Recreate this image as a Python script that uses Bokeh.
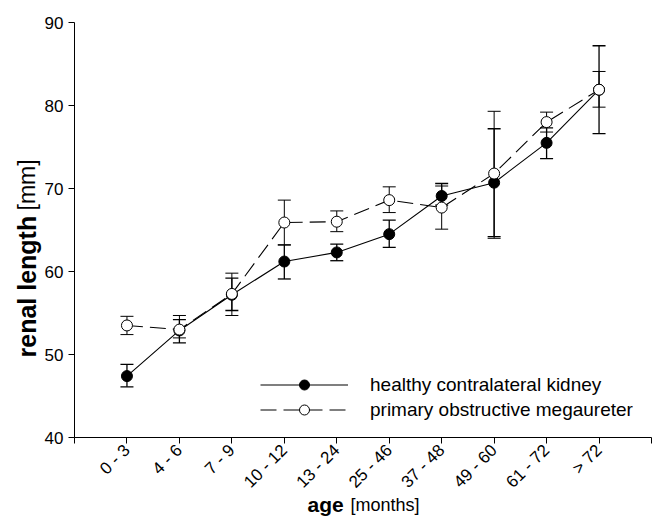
import math
from bokeh.plotting import figure
from bokeh.models import (ColumnDataSource, Whisker, FixedTicker, Label, Legend,
                          LegendItem, Range1d, TeeHead)
from bokeh.embed import file_html
from bokeh.resources import INLINE

categories = ["0 - 3", "4 - 6", "7 - 9", "10 - 12", "13 - 24", "25 - 46",
              "37 - 48", "49 - 60", "61 - 72", "> 72"]
healthy_mean = [47.4, 52.9, 57.2, 61.2, 62.3, 64.5, 69.1, 70.7, 75.5, 81.9]
healthy_lower = [46.1, 51.4, 55.3, 59.1, 61.3, 62.9, 68.0, 64.2, 73.6, 76.6]
healthy_upper = [48.8, 54.2, 59.2, 63.2, 63.3, 66.2, 70.6, 77.2, 77.3, 87.2]
pom_mean = [53.5, 53.0, 57.3, 65.9, 66.0, 68.6, 67.7, 71.8, 78.0, 81.9]
pom_lower = [52.4, 52.0, 54.7, 63.2, 64.8, 67.1, 65.1, 64.0, 76.8, 79.8]
pom_upper = [54.6, 54.7, 59.8, 68.6, 67.3, 70.2, 70.3, 79.3, 79.2, 84.1]
y_ticks = [40, 50, 60, 70, 80, 90]
Y_MIN, Y_MAX = 40, 90

FONT = "Liberation Sans"
xs = list(range(1, len(categories) + 1))
X_MAX = len(categories) + 1

# frame covers the whole canvas; axes are pinned at the data origin
W, H = 656, 519
LEFT, RIGHT, TOP, BOTTOM = 74, 5, 22, 82
px_x = (W - LEFT - RIGHT) / X_MAX
px_y = (H - TOP - BOTTOM) / (Y_MAX - Y_MIN)
x_range = Range1d(-LEFT / px_x, X_MAX + RIGHT / px_x)
y_range = Range1d(Y_MIN - BOTTOM / px_y, Y_MAX + TOP / px_y)

src_h = ColumnDataSource(dict(x=xs, y=healthy_mean, lower=healthy_lower, upper=healthy_upper))
src_p = ColumnDataSource(dict(x=xs, y=pom_mean, lower=pom_lower, upper=pom_upper))

p = figure(width=W, height=H, x_range=x_range, y_range=y_range,
           output_backend="svg", toolbar_location=None,
           min_border_left=0, min_border_right=0, min_border_top=0, min_border_bottom=0)
p.outline_line_color = None
p.xgrid.visible = False
p.ygrid.visible = False
p.background_fill_color = "white"

for src, w in ((src_h, 1.3), (src_p, 1.0)):
    wk = Whisker(base="x", upper="upper", lower="lower", source=src,
                 line_color="black", line_width=w,
                 upper_head=TeeHead(size=13, line_color="black", line_width=w),
                 lower_head=TeeHead(size=13, line_color="black", line_width=w))
    p.add_layout(wk)

h_line = p.line("x", "y", source=src_h, line_color="black", line_width=1.1)
p_line = p.line("x", "y", source=src_p, line_color="black", line_width=1.1, line_dash="16 7")
h_pts = p.scatter("x", "y", source=src_h, marker="circle", size=11,
                  fill_color="black", line_color="black", line_width=1)
p_pts = p.scatter("x", "y", source=src_p, marker="circle", size=11,
                  fill_color="white", line_color="black", line_width=1)

# axes
xax = p.xaxis[0]
xax.fixed_location = Y_MIN
xax.bounds = (0, X_MAX)
xax.ticker = FixedTicker(ticks=[0] + xs + [X_MAX])
overrides = {0: "", X_MAX: ""}
for i, c in zip(xs, categories):
    overrides[i] = c
xax.major_label_overrides = overrides
xax.major_label_orientation = math.pi / 4
xax.major_label_text_font = FONT
xax.major_label_text_font_size = "17px"
xax.major_label_text_color = "black"
xax.major_label_standoff = 4
xax.major_tick_in = 0
xax.major_tick_out = 6
xax.minor_tick_line_color = None
xax.axis_line_color = "black"
xax.major_tick_line_color = "black"

yax = p.yaxis[0]
yax.fixed_location = 0
yax.bounds = (Y_MIN, Y_MAX)
yax.ticker = FixedTicker(ticks=y_ticks)
yax.major_label_text_font = FONT
yax.major_label_text_font_size = "17px"
yax.major_label_text_color = "black"
yax.major_label_standoff = 5
yax.major_tick_in = 0
yax.major_tick_out = 6
yax.minor_tick_line_color = None
yax.axis_line_color = "black"
yax.major_tick_line_color = "black"

# axis titles (mixed bold / regular)
p.add_layout(Label(x=LEFT - 48, y=BOTTOM + 80, x_units="screen", y_units="screen",
                   text="renal length", angle=math.pi / 2, text_align="left",
                   text_baseline="middle", text_font=FONT, text_font_style="bold",
                   text_font_size="25px", text_color="black"))
p.add_layout(Label(x=LEFT - 48, y=BOTTOM + 227, x_units="screen", y_units="screen",
                   text="[mm]", angle=math.pi / 2, text_align="left",
                   text_baseline="middle", text_font=FONT, text_font_size="23px",
                   text_color="black"))
p.add_layout(Label(x=LEFT + 233, y=BOTTOM - 67, x_units="screen", y_units="screen",
                   text="age", text_align="left", text_baseline="middle",
                   text_font=FONT, text_font_style="bold", text_font_size="21px",
                   text_color="black"))
p.add_layout(Label(x=LEFT + 276, y=BOTTOM - 67, x_units="screen", y_units="screen",
                   text="[months]", text_align="left", text_baseline="middle",
                   text_font=FONT, text_font_size="18px", text_color="black"))

legend = Legend(items=[
    LegendItem(label="healthy contralateral kidney", renderers=[h_line, h_pts]),
    LegendItem(label="primary obstructive megaureter", renderers=[p_line, p_pts]),
], location=(LEFT + 186, BOTTOM + 15))
legend.glyph_width = 88
legend.glyph_height = 25
legend.label_height = 25
legend.label_standoff = 22
legend.spacing = 0
legend.padding = 0
legend.margin = 0
legend.border_line_color = None
legend.background_fill_alpha = 0
legend.label_text_font = FONT
legend.label_text_font_size = "19px"
legend.label_text_color = "black"
p.add_layout(legend)

open("out.html", "w").write(file_html(p, INLINE))
